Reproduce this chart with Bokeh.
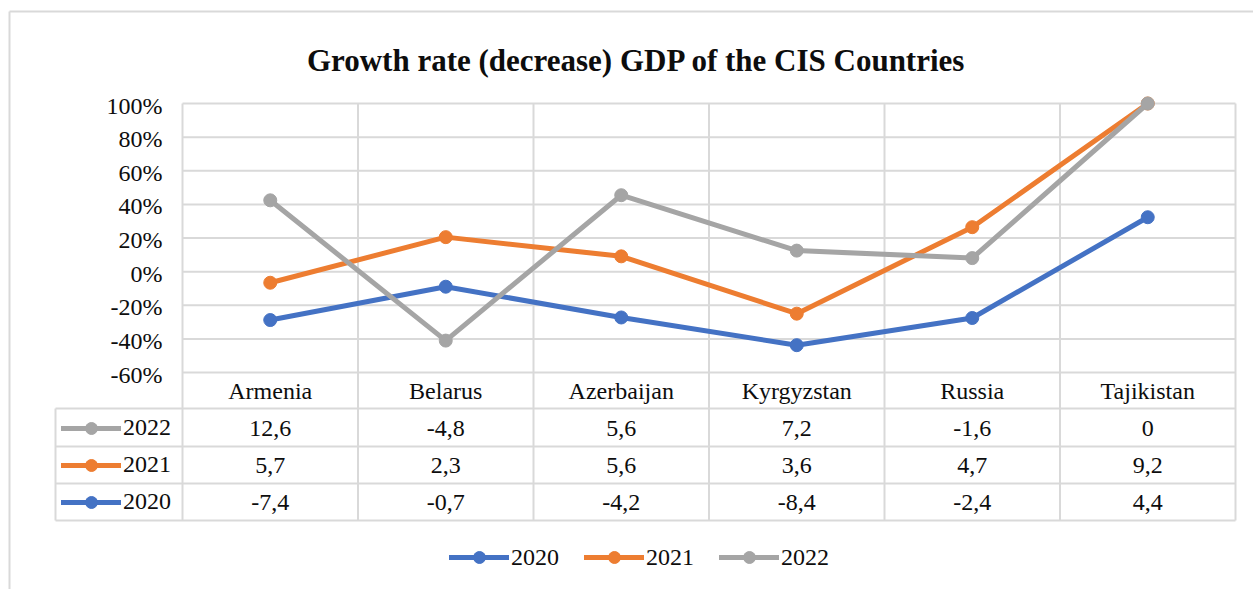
import numpy as np
from bokeh.plotting import figure
from bokeh.models import Range1d, Legend, LegendItem
from bokeh.core.properties import value
from bokeh.embed import file_html
from bokeh.resources import INLINE

# ---------------- data ----------------
countries = ["Armenia", "Belarus", "Azerbaijan", "Kyrgyzstan", "Russia", "Tajikistan"]
years = ["2020", "2021", "2022"]
gdp_2020 = [-7.4, -0.7, -4.2, -8.4, -2.4, 4.4]
gdp_2021 = [5.7, 2.3, 5.6, 3.6, 4.7, 9.2]
gdp_2022 = [12.6, -4.8, 5.6, 7.2, -1.6, 0.0]
y_ticks = [-60, -40, -20, 0, 20, 40, 60, 80, 100]
y_tick_labels = ["-60%", "-40%", "-20%", "0%", "20%", "40%", "60%", "80%", "100%"]
colors = ["#4472C4", "#ED7D31", "#A5A5A5"]
title_text = "Growth rate (decrease) GDP of the CIS Countries"

# 100% stacked line (Excel style): cumulative share of the absolute total
vals = np.array([gdp_2020, gdp_2021, gdp_2022])
pct = np.cumsum(vals, axis=0) / np.abs(vals).sum(axis=0) * 100.0

# ---------------- layout helpers (page pixels -> data units) ----------------
FIG_W, FIG_H, OFF = 1253, 589, 0
CAT_W = 175.5
X0 = 269.75
PX_PER_PCT = 1.68125


def X(px):
    return (px - X0) / CAT_W


def Y(py):
    return 100.0 - (py - 103.0) / PX_PER_PCT


p = figure(width=FIG_W, height=FIG_H, output_backend="svg", toolbar_location=None,
           x_range=Range1d(X(OFF), X(OFF + FIG_W)), y_range=Range1d(Y(OFF + FIG_H), Y(OFF)),
           x_axis_type=None, y_axis_type=None, min_border=0)
p.grid.visible = False
p.outline_line_color = None
p.background_fill_color = "white"
p.border_fill_color = "white"

FONT_NAME = "Liberation Serif"
FONT = value(FONT_NAME)
GRID = "#d9d9d9"
TXT = "#0d0d0d"
FS = "24px"

# outer chart border
p.segment(x0=[X(9), X(9)], y0=[Y(11), Y(11)], x1=[X(1260), X(9)], y1=[Y(11), Y(600)],
          line_color=GRID, line_width=2)

# horizontal gridlines
n = len(countries)
p.segment(x0=[-0.5] * len(y_ticks), x1=[n - 0.5] * len(y_ticks), y0=y_ticks, y1=y_ticks,
          line_color=GRID, line_width=2)
# vertical lines (category boundaries, running through the data table)
bx = [i - 0.5 for i in range(n + 1)]
p.segment(x0=bx, x1=bx, y0=[100] * len(bx), y1=[Y(520)] * len(bx), line_color=GRID, line_width=2)
# data-table rules
rows_y = [Y(408), Y(446), Y(483), Y(520)]
p.segment(x0=[X(55)] * 4, x1=[n - 0.5] * 4, y0=rows_y, y1=rows_y, line_color=GRID, line_width=2)
p.segment(x0=[X(55)], x1=[X(55)], y0=[Y(408)], y1=[Y(520)], line_color=GRID, line_width=2)

# y tick labels
p.text(x=[X(162)] * len(y_ticks), y=[t - 1.2 for t in y_ticks], text=y_tick_labels,
       text_font=FONT, text_font_size=FS, text_color=TXT,
       text_align="right", text_baseline="middle")

# category labels (header row of the data table)
p.text(x=list(range(n)), y=[Y(390)] * n, text=countries, text_font=FONT, text_font_size=FS,
       text_color=TXT, text_align="center", text_baseline="middle")


def fmt(v):
    return f"{v:g}".replace(".", ",")


row_centers = {"2022": Y(428), "2021": Y(465), "2020": Y(502)}
for yr, arr in zip(years, [gdp_2020, gdp_2021, gdp_2022]):
    p.text(x=list(range(n)), y=[row_centers[yr]] * n, text=[fmt(v) for v in arr],
           text_font=FONT, text_font_size=FS, text_color=TXT,
           text_align="center", text_baseline="middle")

# title
p.text(x=[X(636)], y=[Y(60)], text=[title_text], text_font=FONT, text_font_size="31px",
       text_font_style="bold", text_color=TXT, text_align="center", text_baseline="alphabetic")

# series
items_h = []
items_v = {}
for k, yr in enumerate(years):
    lr = p.line(x=list(range(n)), y=pct[k], line_color=colors[k], line_width=5,
                line_join="round", line_cap="round")
    sr = p.scatter(x=list(range(n)), y=pct[k], size=13, fill_color=colors[k],
                   line_color=colors[k], marker="circle")
    items_h.append(LegendItem(label=yr, renderers=[lr, sr]))
    items_v[yr] = LegendItem(label=yr, renderers=[lr, sr])

leg_bottom = Legend(items=items_h, orientation="horizontal", location=(449, 17),
                    glyph_width=60, glyph_height=30, label_standoff=2, spacing=25,
                    padding=0, margin=0, border_line_color=None, background_fill_alpha=0,
                    label_text_font=FONT_NAME, label_text_font_size=FS, label_text_color=TXT)
p.add_layout(leg_bottom)

leg_table = Legend(items=[items_v["2022"], items_v["2021"], items_v["2020"]],
                   orientation="vertical", location=(61, 72.5),
                   glyph_width=60, glyph_height=30, label_standoff=2, spacing=7,
                   padding=0, margin=0, border_line_color=None, background_fill_alpha=0,
                   label_text_font=FONT_NAME, label_text_font_size=FS, label_text_color=TXT)
p.add_layout(leg_table)

open("out.html", "w").write(file_html(p, INLINE))
